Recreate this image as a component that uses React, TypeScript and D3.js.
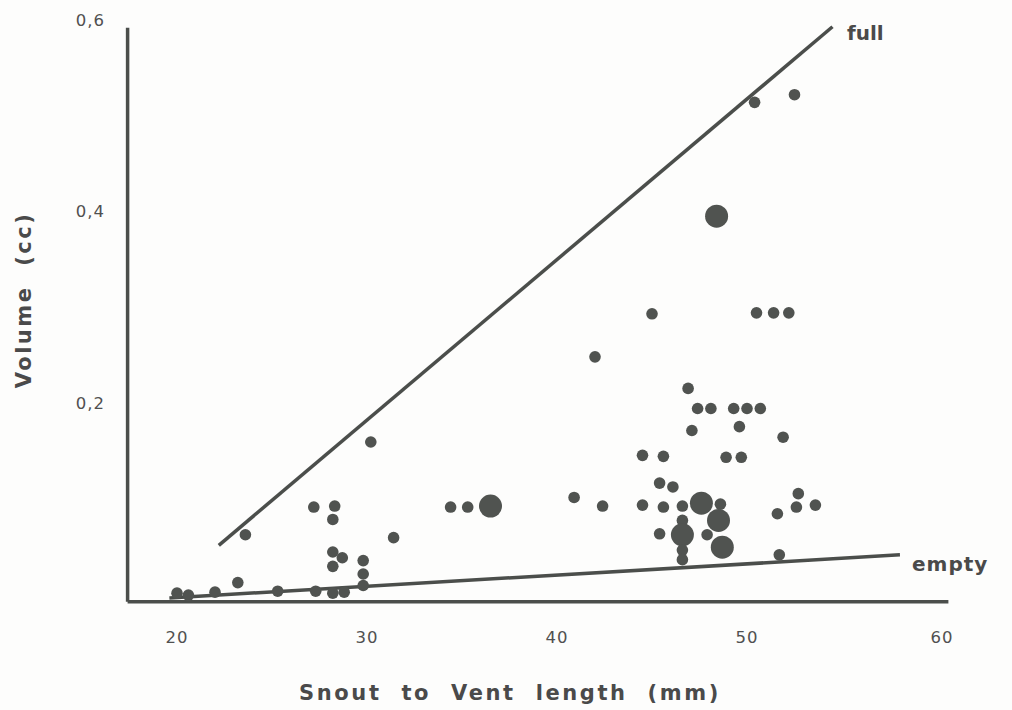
import React from 'react';
import * as d3 from 'd3';

// snout-vent length (mm), volume (cc), dot size (1 = single, 2 = large)
const snout = [
  20, 20.6, 22, 23.2, 23.6, 25.3, 27.3, 27.2, 28.3, 28.2, 28.2, 28.7, 28.2, 28.2, 28.8,
  29.8, 29.8, 29.8, 30.2, 31.4, 34.4, 35.3, 36.5,
  40.9, 42.0, 42.4, 44.5, 44.5, 45.0, 45.4, 45.4, 45.6, 45.6, 46.1, 46.6, 46.6, 46.6,
  46.6, 46.6, 46.9, 47.1, 47.4, 47.6, 47.9, 48.1, 48.4, 48.5, 48.6, 48.7, 48.9,
  49.3, 49.6, 49.7, 50.0, 50.4, 50.5, 50.7, 51.4, 51.6, 51.7, 51.9, 52.2, 52.5,
  52.6, 52.7, 53.6
];
const volume = [
  0.003, 0.001, 0.004, 0.014, 0.064, 0.005, 0.005, 0.093, 0.094, 0.080, 0.046, 0.040, 0.031, 0.003, 0.004,
  0.037, 0.023, 0.011, 0.161, 0.061, 0.093, 0.093, 0.094,
  0.103, 0.250, 0.094, 0.147, 0.095, 0.295, 0.118, 0.065, 0.146, 0.093, 0.114, 0.094, 0.079,
  0.064, 0.048, 0.038, 0.217, 0.173, 0.196, 0.097, 0.064, 0.196, 0.397, 0.079, 0.096, 0.051, 0.145,
  0.196, 0.177, 0.145, 0.196, 0.516, 0.296, 0.196, 0.296, 0.086, 0.043, 0.166, 0.296, 0.524,
  0.093, 0.107, 0.095
];
const dotSize = [
  1, 1, 1, 1, 1, 1, 1, 1, 1, 1, 1, 1, 1, 1, 1,
  1, 1, 1, 1, 1, 1, 1, 2,
  1, 1, 1, 1, 1, 1, 1, 1, 1, 1, 1, 1, 1,
  2, 1, 1, 1, 1, 1, 2, 1, 1, 2, 2, 1, 2, 1,
  1, 1, 1, 1, 1, 1, 1, 1, 1, 1, 1, 1, 1,
  1, 1, 1
];

const xTicks = [20, 30, 40, 50, 60];
const yTicks = [0.2, 0.4, 0.6];
const yTickLabels = ['0,2', '0,4', '0,6'];

// reference lines [x, y] in data units
const fullLine: [number, number][] = [[22.2, 0.053], [54.5, 0.595]];
const emptyLine: [number, number][] = [[19.6, -0.002], [58.05, 0.043]];

const axisXExtent = [17.4, 60.6];
const axisYExtent = [-0.006, 0.594];

const ink = '#4b4e4b';

export default function App() {
  const width = 1012;
  const height = 710;

  const x = d3.scaleLinear().domain([20, 60]).range([177, 937]);
  const y = d3.scaleLinear().domain([0, 0.6]).range([596, 22]);
  const r = d3.scaleLinear().domain([1, 2]).range([5.8, 11.5]);

  const line = d3.line<[number, number]>()
    .x(d => x(d[0]))
    .y(d => y(d[1]));

  const points = snout.map((s, i) => ({ s, v: volume[i], k: dotSize[i] }));

  return (
    <div style={{ position: 'absolute', left: 0, top: 0, background: '#fff' }}>
      <svg width={width} height={height} style={{ display: 'block' }}>
        <rect width={width} height={height} fill="#fdfdfc" />

        {/* axes */}
        <line x1={x(axisXExtent[0])} x2={x(axisXExtent[0])} y1={y(axisYExtent[0])} y2={y(axisYExtent[1])}
          stroke={ink} strokeWidth={3.5} />
        <line x1={x(axisXExtent[0])} x2={x(axisXExtent[1])} y1={y(axisYExtent[0])} y2={y(axisYExtent[0])}
          stroke={ink} strokeWidth={3.5} />

        <g fontFamily="'DejaVu Sans', sans-serif" fontSize={16.5} fill="#505050" letterSpacing={1}>
          {xTicks.map(t => (
            <text key={t} x={x(t) + (t === 60 ? 5 : 0)} y={643} textAnchor="middle">{t}</text>
          ))}
          {yTicks.map((t, i) => (
            <text key={t} x={105} y={y(t) + 4} textAnchor="end">{yTickLabels[i]}</text>
          ))}
        </g>

        {/* full / empty lines */}
        <path d={line(fullLine) || ''} stroke={ink} strokeWidth={3.5} fill="none" />
        <path d={line(emptyLine) || ''} stroke={ink} strokeWidth={3.5} fill="none" />

        {points.map((p, i) => (
          <circle key={i} cx={x(p.s)} cy={y(p.v)} r={r(p.k)} fill="#505350" />
        ))}

        <g fontFamily="'DejaVu Sans', sans-serif" fontWeight="bold" fill="#4a4a4a">
          <text x={847} y={40} fontSize={20}>full</text>
          <text x={912} y={571} fontSize={20} letterSpacing={1}>empty</text>
          <text x={510} y={700} fontSize={21} textAnchor="middle" letterSpacing={2.6} wordSpacing={10}>
            Snout to Vent length (mm)
          </text>
          <text transform="translate(31,300) rotate(-90)" fontSize={21} textAnchor="middle"
            letterSpacing={2.5} wordSpacing={10}>
            Volume (cc)
          </text>
        </g>
      </svg>
    </div>
  );
}
